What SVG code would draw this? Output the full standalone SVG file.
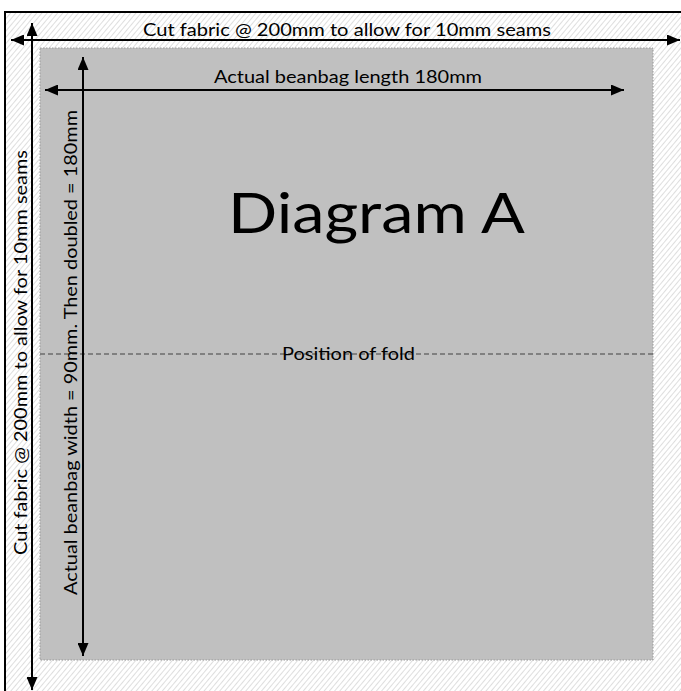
<svg xmlns="http://www.w3.org/2000/svg" width="681" height="691" viewBox="0 0 681 691">
  <style>
    .lbl { font-family: Lato, "Liberation Sans", sans-serif; fill: #000; text-anchor: middle; }
    .arrow { stroke: #000; stroke-width: 2; fill: none; }
    .border { stroke: #000; stroke-width: 2; fill: none; }
  </style>
  <defs>
    <pattern id="hatch" width="4" height="4" patternUnits="userSpaceOnUse" patternTransform="rotate(40)">
      <rect width="4" height="4" fill="#ffffff"/>
      <line x1="0" y1="0" x2="0" y2="4" stroke="#dedede" stroke-width="2"/>
    </pattern>
    <marker id="ah" markerWidth="13" markerHeight="11" refX="13" refY="5.5" orient="auto-start-reverse" markerUnits="userSpaceOnUse">
      <path d="M0,0 L13,5.5 L0,11 z" fill="#000"/>
    </marker>
  </defs>

  <g id="fabric">
    <rect x="5" y="12" width="676" height="679" fill="url(#hatch)"/>
    <path class="border" d="M5,691 L5,12 L681,12"/>
  </g>

  <g id="beanbag">
    <rect x="40" y="48" width="613" height="612" fill="#c0c0c0" stroke="#9a9a9a" stroke-width="1" stroke-dasharray="1.5 1.5"/>
  </g>

  <g id="fold">
    <line x1="40" y1="354" x2="653" y2="354" stroke="#404040" stroke-width="1" stroke-dasharray="5 3"/>
    <text class="lbl" x="348.5" y="360" font-size="16.5" textLength="133" lengthAdjust="spacingAndGlyphs">Position of fold</text>
  </g>

  <g id="connectors">
    <line class="arrow" x1="11" y1="40" x2="680" y2="40" marker-start="url(#ah)" marker-end="url(#ah)"/>
    <line class="arrow" x1="32" y1="23" x2="32" y2="690" marker-start="url(#ah)" marker-end="url(#ah)"/>
    <line class="arrow" x1="45" y1="90" x2="624" y2="90" marker-start="url(#ah)" marker-end="url(#ah)"/>
    <line class="arrow" x1="83" y1="57" x2="83" y2="656" marker-start="url(#ah)" marker-end="url(#ah)"/>
  </g>

  <g id="labels">
    <text class="lbl" x="347" y="36" font-size="18" textLength="408" lengthAdjust="spacingAndGlyphs">Cut fabric @ 200mm to allow for 10mm seams</text>
    <text class="lbl" x="348" y="83" font-size="18" textLength="268" lengthAdjust="spacingAndGlyphs">Actual beanbag length 180mm</text>
    <text class="lbl" transform="translate(27,352.5) rotate(-90)" x="0" y="0" font-size="18" textLength="405" lengthAdjust="spacingAndGlyphs">Cut fabric @ 200mm to allow for 10mm seams</text>
    <text class="lbl" transform="translate(77,352.5) rotate(-90)" x="0" y="0" font-size="18" textLength="485" lengthAdjust="spacingAndGlyphs">Actual beanbag width = 90mm. Then doubled = 180mm</text>
  </g>

  <g id="title">
    <text class="lbl" x="376.5" y="233" font-size="57" textLength="297" lengthAdjust="spacingAndGlyphs">Diagram A</text>
  </g>
</svg>
